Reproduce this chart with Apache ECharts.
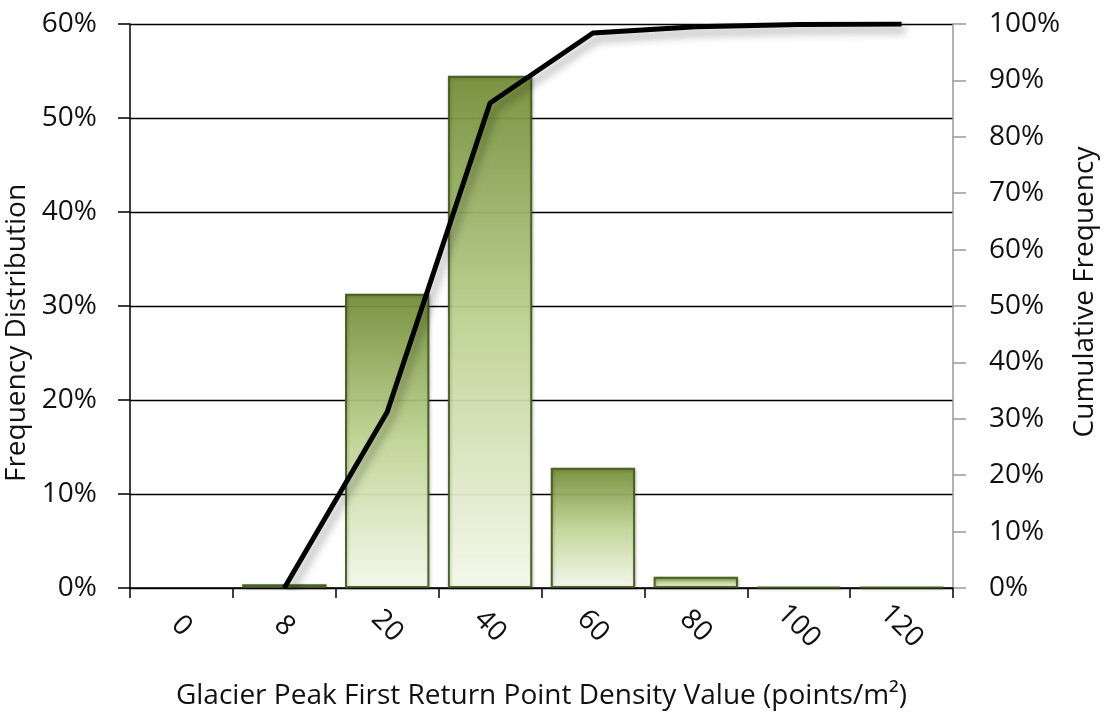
<!DOCTYPE html>
<html>
<head>
<meta charset="utf-8">
<script src="https://cdn.jsdelivr.net/npm/echarts@6/dist/echarts.min.js"></script>
<style>html,body{margin:0;padding:0;background:#fff}#c{width:1106px;height:725px}</style>
</head>
<body>
<div id="c"></div>
<script>
const categories = ['0', '8', '20', '40', '60', '80', '100', '120'];
const frequency = [null, 0.4, 31.3, 54.5, 12.8, 1.2, 0.1, 0.1];
const cumulative = [null, 0, 31.2, 86.0, 98.4, 99.5, 99.9, 100];
const leftTicks = { min: 0, max: 60, interval: 10 };
const rightTicks = { min: 0, max: 100, interval: 10 };

const FONT = 'Open Sans';
const FS = 28;
const chart = echarts.init(document.getElementById('c'));
chart.setOption({
  animation: false,
  backgroundColor: '#fff',
  grid: { left: 130, right: 153, top: 24, bottom: 137, containLabel: false, outerBoundsMode: 'none' },
  xAxis: {
    type: 'category',
    data: categories,
    boundaryGap: true,
    axisLine: { lineStyle: { color: '#000', width: 1.5 } },
    axisTick: { show: true, length: 10, inside: false, lineStyle: { color: '#000', width: 1.5 } },
    axisLabel: { rotate: -45, align: 'center', verticalAlign: 'middle', margin: 38,
      fontFamily: FONT, fontSize: FS, color: '#111' },
    name: 'Glacier Peak First Return Point Density Value (points/m²)',
    nameLocation: 'middle', nameGap: 94,
    nameTextStyle: { fontFamily: FONT, fontSize: FS, color: '#111' }
  },
  yAxis: [{
    type: 'value', min: leftTicks.min, max: leftTicks.max, interval: leftTicks.interval,
    position: 'left',
    axisLine: { show: true, lineStyle: { color: '#000', width: 1.5 } },
    axisTick: { show: true, length: 12, lineStyle: { color: '#000', width: 1.5 } },
    splitLine: { show: true, lineStyle: { color: '#000', width: 1.3 } },
    axisLabel: { formatter: '{value}%', margin: 33, fontFamily: FONT, fontSize: FS, color: '#111' },
    name: 'Frequency Distribution', nameLocation: 'middle', nameGap: 82, nameRotate: 90,
    nameTextStyle: { fontFamily: FONT, fontSize: FS, color: '#111', padding: [0, 54, 0, 0] }
  }, {
    type: 'value', min: rightTicks.min, max: rightTicks.max, interval: rightTicks.interval,
    position: 'right',
    axisLine: { show: true, lineStyle: { color: '#999', width: 1.5 } },
    axisTick: { show: true, length: 13, lineStyle: { color: '#999', width: 1.5 } },
    splitLine: { show: false },
    axisLabel: { formatter: '{value}%', margin: 36, fontFamily: FONT, fontSize: FS, color: '#111' },
    name: 'Cumulative Frequency', nameLocation: 'middle', nameGap: 116, nameRotate: 90,
    nameTextStyle: { fontFamily: FONT, fontSize: FS, color: '#111', padding: [0, 0, 0, 28] }
  }],
  series: [{
    type: 'bar',
    data: frequency,
    yAxisIndex: 0,
    barCategoryGap: '18%',
    itemStyle: {
      color: new echarts.graphic.LinearGradient(0, 0, 0, 1, [
        { offset: 0, color: '#748f37' },
        { offset: 0.5, color: '#c2d796' },
        { offset: 1, color: '#f8fcef' }
      ]),
      borderColor: '#44591c', borderWidth: 2, opacity: 0.93,
      shadowColor: 'rgba(0,0,0,0.25)', shadowBlur: 3, shadowOffsetX: 1, shadowOffsetY: 1
    },
    z: 2
  }, {
    type: 'line',
    data: cumulative,
    yAxisIndex: 1,
    showSymbol: false,
    symbol: 'none',
    lineStyle: { color: '#000', width: 5,
      shadowColor: 'rgba(0,0,0,0.35)', shadowBlur: 8, shadowOffsetX: 4, shadowOffsetY: 6 },
    z: 3
  }]
});
</script>
</body>
</html>
